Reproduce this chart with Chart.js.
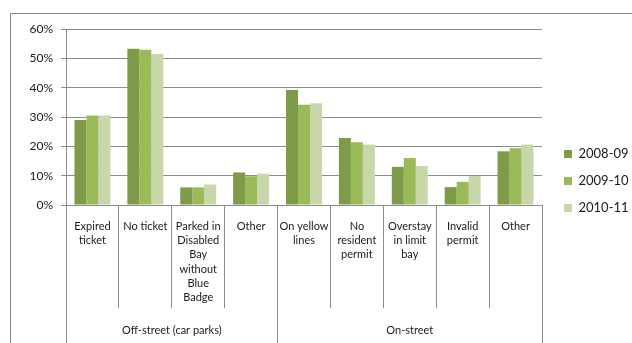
<!DOCTYPE html>
<html>
<head>
<meta charset="utf-8">
<script src="https://cdn.jsdelivr.net/npm/chart.js@4/dist/chart.umd.min.js"></script>
<style>
  html, body { margin: 0; padding: 0; background: #fff; }
  #chart { display: block; }
</style>
</head>
<body>
<canvas id="chart" width="632" height="343"></canvas>
<script>
// categories, grouped under two headings on the axis
var categories = [
  ['Expired', 'ticket'],
  ['No ticket'],
  ['Parked in', 'Disabled', 'Bay', 'without', 'Blue', 'Badge'],
  ['Other'],
  ['On yellow', 'lines'],
  ['No', 'resident', 'permit'],
  ['Overstay', 'in limit', 'bay'],
  ['Invalid', 'permit'],
  ['Other']
];
var groupLabels = ['Off-street (car parks)', 'On-street'];
var groupSizes = [4, 5];

// share of penalty charge notices by contravention (%)
var years = ['2008-09', '2009-10', '2010-11'];
var fy0809 = [29.0, 53.3, 6.0, 11.1, 39.2, 22.8, 13.0, 6.1, 18.3];
var fy0910 = [30.5, 52.9, 6.0, 9.8, 34.2, 21.4, 16.0, 7.9, 19.4];
var fy1011 = [30.5, 51.5, 7.0, 10.7, 34.7, 20.6, 13.3, 9.9, 20.6];

var yTicks = [0, 10, 20, 30, 40, 50, 60];

var GRID = '#8c8c8c';
var TEXT = '#1a1a1a';
var colors = ['#7f9a48', '#9bbb59', '#c8d7aa'];

Chart.defaults.font.family = 'Lato, "Open Sans", sans-serif';
Chart.defaults.color = TEXT;

function align(v) {
  return Math.round(v - 0.5) + 0.5;
}

// outer frame, plus the group dividers and headings under the category labels
var groupAxis = {
  id: 'groupAxis',
  beforeDraw: function (chart) {
    var ctx = chart.ctx;
    ctx.save();
    ctx.strokeStyle = '#868686';
    ctx.lineWidth = 1;
    ctx.beginPath();
    ctx.moveTo(10.5, chart.height);
    ctx.lineTo(10.5, 13.5);
    ctx.lineTo(chart.width, 13.5);
    ctx.stroke();
    ctx.restore();
  },
  afterDraw: function (chart) {
    var x = chart.scales.x;
    var ctx = chart.ctx;
    var half = (x.getPixelForValue(1) - x.getPixelForValue(0)) / 2;
    var top = x.top + x.options.grid.tickLength;
    var start = 0;

    ctx.save();
    ctx.strokeStyle = GRID;
    ctx.lineWidth = 1;
    ctx.fillStyle = TEXT;
    ctx.font = '11px Lato, "Open Sans", sans-serif';
    ctx.textAlign = 'center';
    ctx.textBaseline = 'middle';
    groupSizes.forEach(function (n, g) {
      var left = x.getPixelForValue(start) - half;
      var right = x.getPixelForValue(start + n - 1) + half;
      ctx.beginPath();
      ctx.moveTo(align(left), top);
      ctx.lineTo(align(left), chart.height);
      ctx.moveTo(align(right), top);
      ctx.lineTo(align(right), chart.height);
      ctx.stroke();
      ctx.fillText(groupLabels[g], (left + right) / 2, 330);
      start += n;
    });
    ctx.restore();
  }
};

new Chart(document.getElementById('chart'), {
  type: 'bar',
  data: {
    labels: categories,
    datasets: [
      { label: years[0], data: fy0809, backgroundColor: colors[0] },
      { label: years[1], data: fy0910, backgroundColor: colors[1] },
      { label: years[2], data: fy1011, backgroundColor: colors[2] }
    ]
  },
  options: {
    responsive: false,
    animation: false,
    barPercentage: 1,
    categoryPercentage: 0.68,
    layout: { padding: { top: 29, left: 12, right: 0, bottom: 10 } },
    plugins: {
      tooltip: { enabled: false },
      legend: {
        position: 'right',
        maxWidth: 82,
        labels: {
          boxWidth: 8,
          boxHeight: 8,
          padding: 14,
          color: TEXT,
          font: { size: 13 }
        }
      }
    },
    scales: {
      x: {
        grid: { drawOnChartArea: false, tickLength: 103, color: GRID, offset: true },
        border: { color: GRID },
        ticks: {
          padding: -89,
          maxRotation: 0,
          autoSkip: false,
          color: TEXT,
          font: { size: 11, lineHeight: 1.3 }
        },
        afterFit: function (s) { s.height = 128; }
      },
      y: {
        min: yTicks[0],
        max: yTicks[yTicks.length - 1],
        afterBuildTicks: function (s) {
          s.ticks = yTicks.map(function (v) { return { value: v }; });
        },
        ticks: {
          padding: 8,
          color: TEXT,
          font: { size: 12 },
          callback: function (v) { return v + '%'; }
        },
        grid: { color: GRID, tickLength: 5 },
        border: { color: GRID },
        afterFit: function (s) { s.width = 54; }
      },
      // empty strip between the plot and the legend
      gap: {
        type: 'linear',
        position: 'right',
        grid: { display: false },
        border: { display: false },
        ticks: { display: false },
        afterFit: function (s) { s.width = 8; }
      }
    }
  },
  plugins: [groupAxis]
});
</script>
</body>
</html>
